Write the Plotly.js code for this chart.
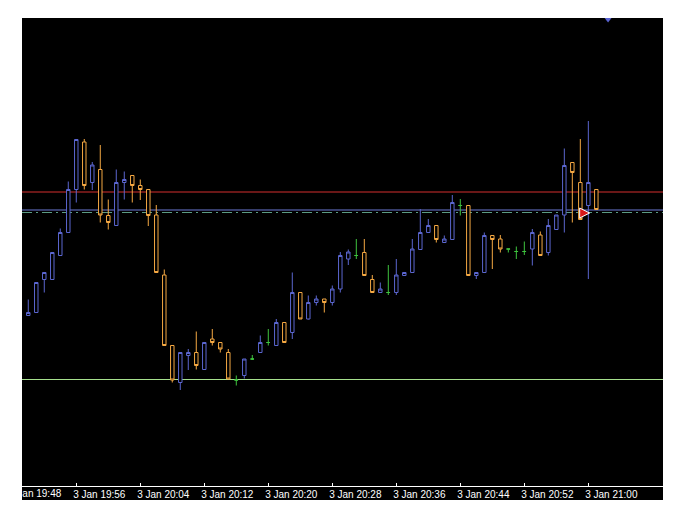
<!DOCTYPE html>
<html>
<head>
<meta charset="utf-8">
<script src="https://cdn.plot.ly/plotly-3.0.1.min.js"></script>
<style>
  html, body { margin: 0; padding: 0; background: #ffffff; }
  #chart { width: 680px; height: 521px; }
</style>
</head>
<body>
<div id="chart"></div>
<script>
// ---- data (1-minute bars, 3 Jan) ----
const day = '2024-01-03';
const times = ['19:50','19:51','19:52','19:53','19:54','19:55','19:56','19:57','19:58','19:59',
               '20:00','20:01','20:02','20:03','20:04','20:05','20:06','20:07','20:08','20:09',
               '20:10','20:11','20:12','20:13','20:14','20:15','20:16','20:17','20:18','20:19',
               '20:20','20:21','20:22','20:23','20:24','20:25','20:26','20:27','20:28','20:29',
               '20:30','20:31','20:32','20:33','20:34','20:35','20:36','20:37','20:38','20:39',
               '20:40','20:41','20:42','20:43','20:44','20:45','20:46','20:47','20:48','20:49',
               '20:50','20:51','20:52','20:53','20:54','20:55','20:56','20:57','20:58','20:59',
               '21:00','21:01'];
const opens  = [184.5,187.5,220.5,220.5,244.5,267.5,310.5,358,317.5,330.5,
                284.5,274.5,317.5,324.5,314.5,310.5,285,225,154.5,117.5,
                144.5,147.5,130.5,161,157.5,147.5,120,124.5,141,147.5,
                157.5,154.5,177.5,167.5,207.5,181,197.5,201,197.5,211,
                241,244.5,247.5,220.5,207.5,207.5,207.5,224.5,227.5,250.5,
                267.5,274.5,257.5,260.5,294.5,294.5,224.5,227.5,264.5,261,
                251,248.5,248.5,251,265,247.5,270.5,285,337.5,317.5,
                294.5,310.5];
const highs  = [200.5,218,228,248,271.5,318.5,361,361,338,355,
                300.5,330.5,328.5,325,320.5,311,295,230.5,155,148,
                151,168.5,158,171,158,151,124.5,141,145,164.5,
                171,181,178,227.5,208,204.5,204.5,201,214.5,248,
                250.5,261,261,225,217.5,235,241,228,261,291,
                281,275,264.5,305,301,295,228,267.5,265,265,
                251,253.5,258.5,271,268.5,281,285,351.5,338,361,
                379,311];
const lows   = [184.5,187,207.5,220,244,267,297.5,310.5,310,277.5,
                270.5,274,300.5,297.5,300,274,227,154,117.5,110,
                130,130.5,130,154.5,147.5,120.5,114.5,121.5,140,147,
                154.5,154,157.5,161,181,180.5,194.5,187.5,194.5,207.5,
                235,241,224,207.5,207,205,205,224,227,250,
                267,257.5,257,260,284.5,224,221,227,231,247.5,
                247.5,241,245,234.5,244,244.5,270,267.5,277.5,280.5,
                221,290.5];
const closes = [187.5,217.5,227.5,247.5,267.5,310.5,360.5,314.5,335,285,
                277.5,317.5,320.5,314.5,310.5,284.5,227.5,154.5,120,147.5,
                147.5,134.5,157.5,157.5,151,121,120,141,141,157.5,
                157.5,177.5,157.5,207.5,181,197.5,201,197.5,211,244.5,
                248,244.5,224.5,207.5,211,207.5,225,227.5,251,267.5,
                274.5,260.5,261,297.5,294.5,224.5,227.5,264.5,260.5,251,
                251,248.5,248.5,267.5,244.5,274.5,285,334.5,327.5,280.5,
                317.5,290.5];

// horizontal levels
const redLevel = 308;
const blueLevel = 290;
const dashDotLevel = 287.5;
const greenLevel = 120.5;

// markers
const tradeArrowTime = '21:00:10';
const tradeArrowPrice = 287;
const shiftMarkerTime = '21:02:28';
const shiftMarkerPrice = 480.5;

// axis ticks
const tickTimes = ['19:56','20:04','20:12','20:20','20:28','20:36','20:44','20:52','21:00'];
const cutTickTime = '19:48';
const xRange = ['19:49:13', '21:09:20'];

// ---- build ----
const d = t => day + ' ' + t;
const isDoji = times.map((_, i) => opens[i] === closes[i]);
function pick(arr, wantDoji) { return arr.filter((_, i) => isDoji[i] === wantDoji); }

const BLUE = '#5b66cf';
const ORANGE = '#f4a843';
const GREEN = '#3fc43f';
const FONT = 'Liberation Sans, Arial, sans-serif';

const mainTrace = {
  type: 'candlestick',
  x: pick(times, false).map(d),
  open: pick(opens, false), high: pick(highs, false),
  low: pick(lows, false), close: pick(closes, false),
  increasing: { line: { color: BLUE, width: 1 }, fillcolor: '#000000' },
  decreasing: { line: { color: ORANGE, width: 1 }, fillcolor: '#000000' },
  whiskerwidth: 0,
  hoverinfo: 'none', showlegend: false
};
const dojiTrace = {
  type: 'candlestick',
  x: pick(times, true).map(d),
  open: pick(opens, true), high: pick(highs, true),
  low: pick(lows, true), close: pick(closes, true),
  increasing: { line: { color: GREEN, width: 1 }, fillcolor: GREEN },
  decreasing: { line: { color: GREEN, width: 1 }, fillcolor: GREEN },
  whiskerwidth: 0,
  hoverinfo: 'none', showlegend: false
};
const arrowTrace = {
  type: 'scatter', mode: 'markers',
  x: [d(tradeArrowTime)], y: [tradeArrowPrice],
  marker: { symbol: 'arrow-right', size: 10, color: '#d81818', line: { color: '#ffffff', width: 1 } },
  hoverinfo: 'none', showlegend: false
};
const shiftTrace = {
  type: 'scatter', mode: 'markers',
  x: [d(shiftMarkerTime)], y: [shiftMarkerPrice],
  marker: { symbol: 'triangle-down', size: 6, color: '#5a64d4' },
  cliponaxis: false,
  hoverinfo: 'none', showlegend: false
};

function hline(level, color, dash) {
  return { type: 'line', xref: 'paper', x0: 0, x1: 1, yref: 'y', y0: level, y1: level,
           line: { color: color, width: 1, dash: dash || 'solid' }, layer: 'below' };
}

const layout = {
  width: 680, height: 521,
  margin: { l: 22, r: 17, t: 18, b: 21, pad: 0 },
  paper_bgcolor: '#ffffff',
  plot_bgcolor: '#000000',
  showlegend: false,
  boxgap: 0.38,
  font: { family: FONT, size: 10, color: '#ffffff' },
  xaxis: {
    type: 'date',
    range: xRange.map(d),
    rangeslider: { visible: false },
    anchor: 'free', position: 14 / 482,
    showgrid: false, zeroline: false,
    showline: true, linecolor: '#ffffff', linewidth: 1,
    ticks: 'inside', ticklen: 3, tickcolor: '#ffffff', tickwidth: 1,
    tickmode: 'array', tickvals: tickTimes.map(d),
    tickformat: '%-d %b %H:%M',
    ticklabelshift: 23,
    ticklabelstandoff: -1,
    tickfont: { family: FONT, size: 10, color: '#ffffff' },
    fixedrange: true
  },
  yaxis: {
    range: [0, 482],
    domain: [0, 1],
    showgrid: false, zeroline: false, showline: false,
    showticklabels: false, ticks: '',
    fixedrange: true
  },
  shapes: [
    hline(redLevel, '#d42e2e'),
    hline(blueLevel, '#6c7ad6'),
    hline(dashDotLevel, '#5c9a84', '10px,4px,2px,4px'),
    hline(greenLevel, '#a6e08e')
  ],
  annotations: [{
    xref: 'x', yref: 'paper',
    x: d(times[0]), xshift: -21, xanchor: 'left',
    y: 0, yshift: -1, yanchor: 'bottom',
    text: '3 Jan ' + cutTickTime,
    showarrow: false,
    font: { family: FONT, size: 10, color: '#ffffff' }
  }]
};

Plotly.newPlot('chart', [mainTrace, dojiTrace, arrowTrace, shiftTrace], layout,
  { displayModeBar: false, staticPlot: true });
</script>
</body>
</html>
